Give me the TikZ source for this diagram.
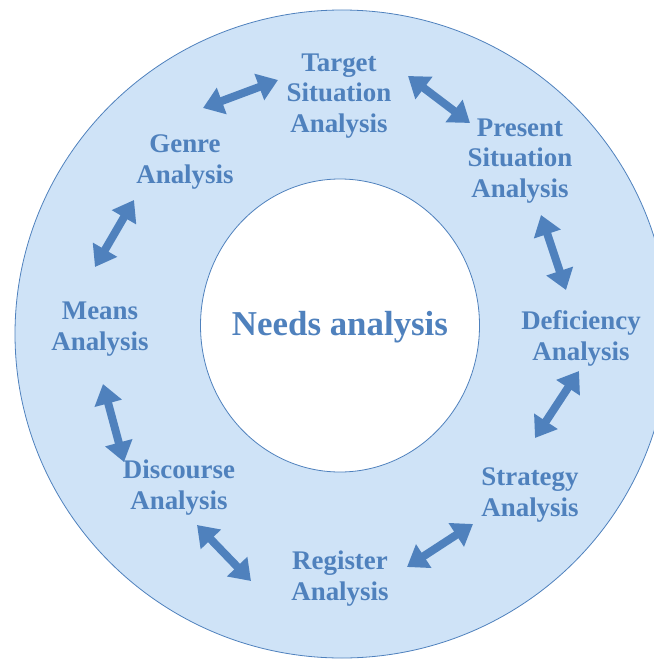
\documentclass[tikz,border=0pt]{standalone}
\usepackage{fontspec}
\setmainfont{Liberation Serif}
\usetikzlibrary{arrows.meta}
\definecolor{ringblue}{RGB}{207,227,247}
\definecolor{inkblue}{RGB}{79,129,189}
\tikzset{
  stage/.style={text=inkblue, font=\bfseries\fontsize{27}{31}\selectfont, align=center},
  link/.style={draw=inkblue, line width=8bp,
    {Triangle[length=20bp,width=27bp]}-{Triangle[length=20bp,width=27bp]}}
}
\begin{document}
\begin{tikzpicture}[x=1bp, y=-1bp]
    \useasboundingbox (0,0) rectangle (654,659);
    % the outer ring
    \draw[inkblue, fill=ringblue, line width=0.8bp] (342,334) ellipse [x radius=327, y radius=324];
    % the white hole in the middle
    \draw[inkblue, fill=white, line width=0.8bp] (340,325.5) ellipse [x radius=139.5, y radius=146.5];

    % the label in the middle
    \node[stage, font=\bfseries\fontsize{35}{40}\selectfont] (centre) at (340,327) {Needs analysis};

    % the eight stages round the ring
    \node[stage] (target)     at (339,96)  {Target\\Situation\\Analysis};
    \node[stage] (present)    at (520,161) {Present\\Situation\\Analysis};
    \node[stage] (deficiency) at (581,338) {Deficiency\\Analysis};
    \node[stage] (strategy)   at (530,495) {Strategy\\Analysis};
    \node[stage] (register)   at (340,579) {Register\\Analysis};
    \node[stage] (discourse)  at (179,488) {Discourse\\Analysis};
    \node[stage] (means)      at (100,329) {Means\\Analysis};
    \node[stage] (genre)      at (185,162) {Genre\\Analysis};

    % the ends of the arrows between the stages
    \coordinate (gt-1) at (203,108); \coordinate (gt-2) at (278,80);
    \coordinate (tp-1) at (408,76);  \coordinate (tp-2) at (470,123);
    \coordinate (pd-1) at (541,215); \coordinate (pd-2) at (566,290);
    \coordinate (ds-1) at (579,371); \coordinate (ds-2) at (535,438);
    \coordinate (sr-1) at (473,524); \coordinate (sr-2) at (407,567);
    \coordinate (rd-1) at (251,581); \coordinate (rd-2) at (197,525);
    \coordinate (dm-1) at (124,462); \coordinate (dm-2) at (103,384);
    \coordinate (mg-1) at (95,267);  \coordinate (mg-2) at (134,200);

    % the double arrows
    \foreach \p in {gt,tp,pd,ds,sr,rd,dm,mg}
    \draw[link] (\p-1) -- (\p-2);
\end{tikzpicture}
\end{document}
